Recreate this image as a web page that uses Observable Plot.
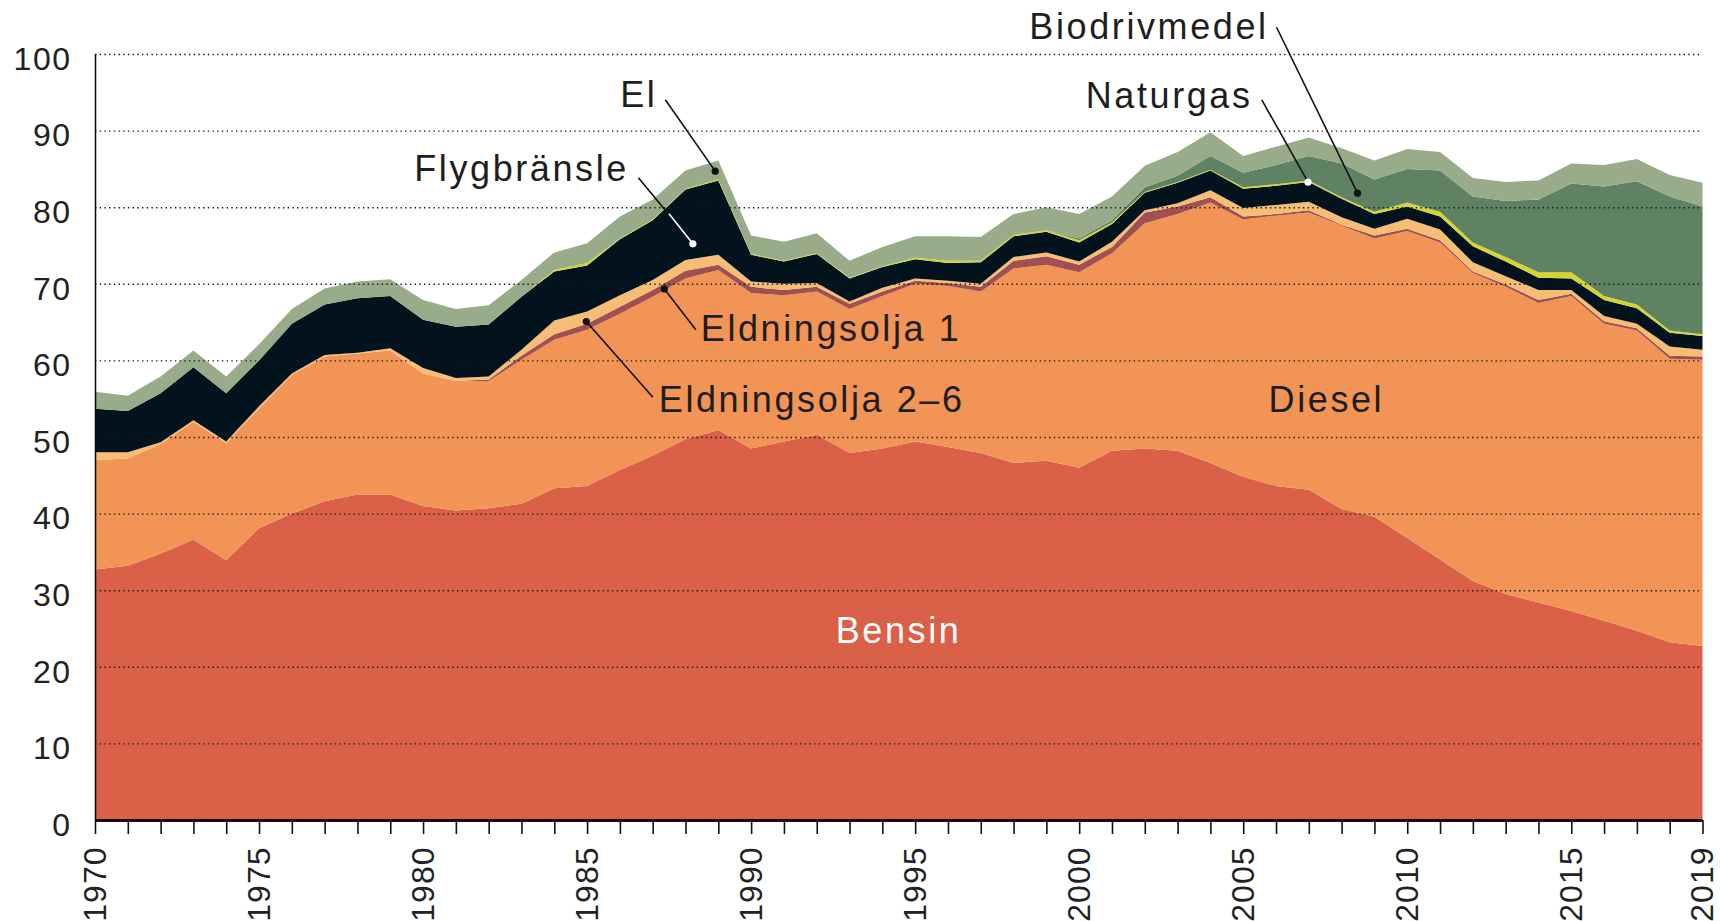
<!DOCTYPE html>
<html>
<head>
<meta charset="utf-8">
<script src="https://cdn.jsdelivr.net/npm/d3@7"></script>
<script src="https://cdn.jsdelivr.net/npm/@observablehq/plot@0.6"></script>
<style>
  body { margin: 0; background: #fff; }
  #chart svg { display: block; }
  g[aria-label="text"] text { letter-spacing: 2.6px; }
  g[aria-label="y-axis tick label"] text { letter-spacing: 1.5px; }
  g[aria-label="x-axis tick label"] text { letter-spacing: 1px; }
</style>
</head>
<body>
<div id="chart"></div>
<script>
// ---- Data ----
const years = [1970,1971,1972,1973,1974,1975,1976,1977,1978,1979,
               1980,1981,1982,1983,1984,1985,1986,1987,1988,1989,
               1990,1991,1992,1993,1994,1995,1996,1997,1998,1999,
               2000,2001,2002,2003,2004,2005,2006,2007,2008,2009,
               2010,2011,2012,2013,2014,2015,2016,2017,2018,2019];

const bensin = [32.7,33.2,34.8,36.6,33.9,38.1,40.0,41.6,42.5,42.5,
                41.0,40.4,40.7,41.3,43.3,43.6,45.7,47.6,49.7,50.9,
                48.5,49.4,50.3,47.9,48.5,49.4,48.7,47.9,46.6,46.9,
                46.0,48.2,48.5,48.2,46.6,44.8,43.6,43.1,40.6,39.6,
                36.8,34.0,31.2,29.5,28.4,27.3,26.0,24.7,23.2,22.7];

const diesel = [14.3,14.0,14.3,15.4,15.3,15.6,18.1,18.9,18.4,18.8,
                17.3,16.9,16.6,18.8,19.4,20.4,20.4,20.7,21.0,20.9,
                20.3,19.1,18.7,18.8,19.9,20.6,21.0,21.1,25.4,25.6,
                25.5,25.8,29.4,30.9,34.0,33.6,35.3,36.2,37.0,36.3,
                40.1,41.4,40.2,40.1,39.1,41.1,38.8,39.2,37.0,37.4];

const eldningsolja26 = [0,0,0,0,0,0,0,0,0,0,
                0,0,0.2,0.5,0.7,0.8,0.9,0.9,1.0,0.7,
                0.8,0.7,0.6,0.7,0.6,0.4,0.4,0.6,1.0,1.1,
                1.0,0.8,1.4,1.0,0.7,0.4,0.2,0.3,0.1,0.4,
                0.3,0.3,0.2,0.3,0.4,0.3,0.3,0.3,0.4,0.4];

const eldningsolja1 = [1.0,0.8,0.2,0.2,0.2,0.3,0.2,0.2,0.1,0.3,
                0.7,0.4,0.4,0.8,1.8,1.6,1.5,1.3,1.4,1.3,
                0.7,0.8,0.5,0.3,0.5,0.3,0.3,0.4,0.5,0.5,
                0.4,0.7,0.3,0.4,0.9,1.1,1.2,1.1,1.0,0.9,
                1.3,1.4,1.2,1.1,1.3,0.5,0.7,0.6,1.2,0.9];

const flygbransle = [5.7,5.4,6.4,6.9,6.3,6.0,6.5,6.6,7.1,6.8,
                6.3,6.7,6.8,6.9,6.4,6.0,7.3,7.8,9.2,9.7,
                3.5,2.9,3.8,3.0,2.7,2.5,2.3,2.8,2.7,2.7,
                2.5,2.3,2.3,2.7,2.6,2.5,2.5,2.6,2.4,1.9,
                1.6,1.7,2.1,1.9,1.6,1.5,2.1,2.0,1.8,1.8];

const naturgas = [0,0,0,0,0,0,0,0,0,0,
                0,0,0,0,0.2,0.3,0.1,0.1,0.1,0.1,
                0.1,0.1,0.1,0.1,0.1,0.2,0.3,0.2,0.2,0.2,
                0.3,0.2,0.1,0.1,0.1,0.2,0.2,0.2,0.2,0.3,
                0.5,0.6,0.5,0.6,0.7,0.8,0.5,0.5,0.3,0.2];

const biodrivmedel = [0,0,0,0,0,0,0,0,0,0,
                0,0,0,0,0,0,0,0,0,0,
                0,0,0,0,0,0,0,0,0,0,
                0.2,0.3,0.6,0.8,1.8,1.9,2.5,3.2,4.4,4.2,
                4.4,5.4,6.0,7.3,9.5,11.6,14.3,16.1,17.5,16.7];

const el = [2.2,2.0,2.2,2.2,2.2,2.1,1.9,2.1,2.2,2.2,
            2.6,2.3,2.5,2.2,2.3,2.6,2.9,2.6,2.4,2.5,
            2.4,2.5,2.6,2.2,2.5,2.8,3.2,3.1,2.7,3.0,
            3.2,3.1,2.8,3.1,3.1,2.2,2.4,2.4,2.0,2.5,
            2.6,2.4,2.4,2.5,2.5,2.6,2.8,2.9,2.8,3.1];

const fuels = ["Bensin","Diesel","Eldningsolja 2–6","Eldningsolja 1","Flygbränsle","Naturgas","Biodrivmedel","El"];
const fuelColors = ["#da6147","#f19455","#a0514f","#f8bd74","#02131d","#d6d52c","#5e8262","#98ac8a"];

const yTicks = [0,10,20,30,40,50,60,70,80,90,100];
const xLabelYears = [1970,1975,1980,1985,1990,1995,2000,2005,2010,2015,2019];

// Annotation labels and leader lines (data coordinates)
const areaLabels = [
  {text: "Bensin", x: 1994.48, y: 23.15, fill: "#ffffff"},
  {text: "Diesel", x: 2007.52, y: 53.29, fill: "#1e1e1e"}
];
const calloutLabels = [
  {text: "El", x: 1987.13, y: 93.21, anchor: "end"},
  {text: "Flygbränsle", x: 1986.26, y: 83.55, anchor: "end"},
  {text: "Eldningsolja 1", x: 1988.45, y: 62.66, anchor: "start"},
  {text: "Eldningsolja 2–6", x: 1987.17, y: 53.39, anchor: "start"},
  {text: "Naturgas", x: 2005.27, y: 93.04, anchor: "end"},
  {text: "Biodrivmedel", x: 2005.76, y: 102.05, anchor: "end"}
];
const leaders = [
  {x1: 1987.37, y1: 94.09, x2: 1988.89, y2: 84.77},
  {x1: 1986.55, y1: 83.90, x2: 1988.21, y2: 75.29},
  {x1: 1987.34, y1: 69.39, x2: 1988.30, y2: 64.07},
  {x1: 1984.96, y1: 65.14, x2: 1986.99, y2: 55.26},
  {x1: 2005.55, y1: 94.09, x2: 2006.96, y2: 83.33},
  {x1: 2006.00, y1: 103.56, x2: 2008.47, y2: 81.89}
];
const whiteLeaders = [
  {x1: 1987.48, y1: 79.20, x2: 1988.21, y2: 75.29}
];
const blackDots = [
  {x: 1988.89, y: 84.77},
  {x: 1987.34, y: 69.39},
  {x: 1984.96, y: 65.14},
  {x: 2008.47, y: 81.89}
];
const whiteDots = [
  {x: 1988.21, y: 75.29},
  {x: 2006.96, y: 83.33}
];

// Build tidy table
const series = [bensin, diesel, eldningsolja26, eldningsolja1, flygbransle, naturgas, biodrivmedel, el];
const rows = [];
fuels.forEach((f, i) => {
  years.forEach((yr, j) => rows.push({year: yr, fuel: f, value: series[i][j]}));
});

const chart = Plot.plot({
  width: 1720,
  height: 921,
  marginTop: 54,
  marginBottom: 101,
  marginLeft: 95,
  marginRight: 17.5,
  style: {fontFamily: "'Liberation Sans', Arial, Helvetica, sans-serif", color: "#222", background: "#fff", overflow: "visible"},
  x: {domain: [1970, 2019]},
  y: {domain: [0, 100]},
  color: {domain: fuels, range: fuelColors},
  marks: [
    Plot.areaY(rows, Plot.stackY({x: "year", y: "value", fill: "fuel", order: fuels})),
    Plot.ruleY(yTicks, {stroke: "#1a1a1a", strokeWidth: 1.4, strokeDasharray: "1.4,3.3"}),
    Plot.ruleY([0], {stroke: "#111", strokeWidth: 3}),
    Plot.ruleX([1970], {y1: 0, y2: 100, stroke: "#111", strokeWidth: 1.6}),
    Plot.axisY({ticks: yTicks, tickSize: 0, tickPadding: 24, fontSize: 32, label: null, dy: 5, fill: "#222"}),
    Plot.axisX({ticks: years, tickSize: 14, tickPadding: 12, tickRotate: -90, fontSize: 32, label: null,
                tickFormat: d => xLabelYears.includes(d) ? String(d) : "", stroke: "#111", strokeWidth: 1.6, fill: "#222"}),
    Plot.link(leaders, {x1: "x1", y1: "y1", x2: "x2", y2: "y2", stroke: "#111", strokeWidth: 1.6}),
    Plot.link(whiteLeaders, {x1: "x1", y1: "y1", x2: "x2", y2: "y2", stroke: "#fff", strokeWidth: 1.6}),
    Plot.dot(blackDots, {x: "x", y: "y", r: 3.6, fill: "#111", stroke: null}),
    Plot.dot(whiteDots, {x: "x", y: "y", r: 3.6, fill: "#fff", stroke: null}),
    Plot.text(calloutLabels.filter(d => d.anchor === "end"), {x: "x", y: "y", text: "text", textAnchor: "end", lineAnchor: "bottom", fontSize: 36, fill: "#1e1e1e"}),
    Plot.text(calloutLabels.filter(d => d.anchor === "start"), {x: "x", y: "y", text: "text", textAnchor: "start", lineAnchor: "bottom", fontSize: 36, fill: "#1e1e1e"}),
    Plot.text(areaLabels.filter(d => d.fill === "#ffffff"), {x: "x", y: "y", text: "text", textAnchor: "middle", lineAnchor: "bottom", fontSize: 36, fill: "#ffffff"}),
    Plot.text(areaLabels.filter(d => d.fill !== "#ffffff"), {x: "x", y: "y", text: "text", textAnchor: "middle", lineAnchor: "bottom", fontSize: 36, fill: "#1e1e1e"})
  ]
});
document.getElementById("chart").appendChild(chart);
</script>
</body>
</html>
